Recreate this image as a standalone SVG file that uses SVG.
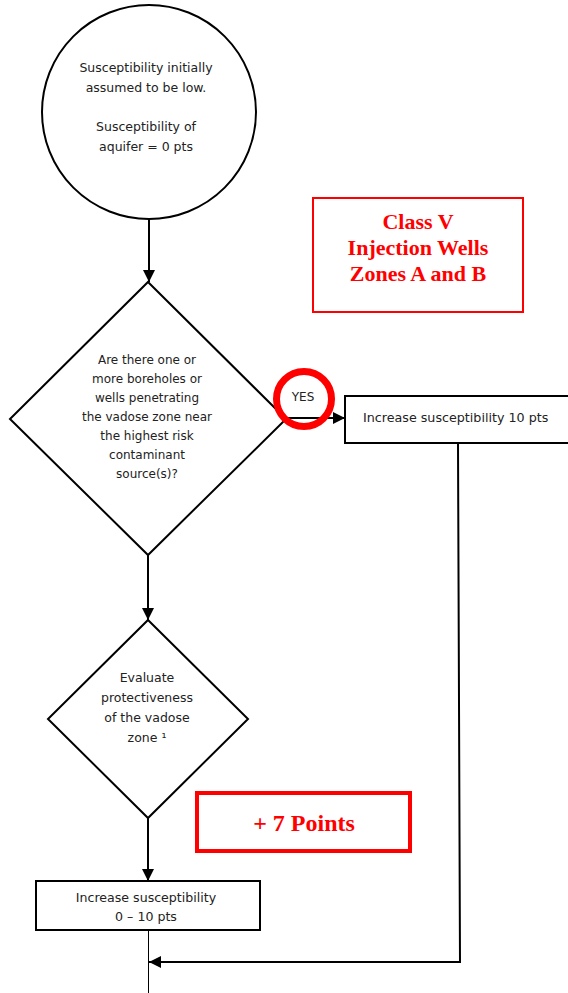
<svg xmlns="http://www.w3.org/2000/svg" width="568" height="993" viewBox="0 0 568 993">
<style>
.shape{fill:#fff;stroke:#000;stroke-width:2}
.t{font-family:"DejaVu Sans",sans-serif;font-size:12.5px;fill:#222;text-anchor:middle}
.tl{font-family:"DejaVu Sans",sans-serif;font-size:12.7px;fill:#222}
.red{font-family:"Liberation Serif",serif;font-weight:bold;fill:#f00;text-anchor:middle}
.conn{stroke:#000;stroke-width:2;fill:none}
</style>
<defs>
<marker id="arr" viewBox="0 0 10 10" refX="10" refY="5" markerWidth="6" markerHeight="6" markerUnits="strokeWidth" orient="auto">
<path d="M0,0 L10,5 L0,10 Z" fill="#000"/>
</marker>
</defs>
<rect width="568" height="993" fill="#fff"/>
<g id="connectors">
<line class="conn" x1="149" y1="218" x2="149" y2="282" marker-end="url(#arr)"/>
<line class="conn" x1="286" y1="418" x2="345" y2="418" marker-end="url(#arr)"/>
<line class="conn" x1="148" y1="555" x2="148" y2="620" marker-end="url(#arr)"/>
<line class="conn" x1="148" y1="818" x2="148" y2="881" marker-end="url(#arr)"/>
<polyline class="conn" points="458,443 460,962 149,962" marker-end="url(#arr)"/>
<line x1="148.5" y1="930" x2="148.5" y2="993" stroke="#000" stroke-width="1"/>
</g>
<g id="start">
<circle class="shape" cx="149" cy="112" r="107"/>
<text class="t" x="146" y="72">Susceptibility initially</text>
<text class="t" x="146" y="92">assumed to be low.</text>
<text class="t" x="146" y="131">Susceptibility of</text>
<text class="t" x="146" y="151">aquifer = 0 pts</text>
</g>
<g id="decision1">
<polygon class="shape" points="148,282 286,419 148,555 10,419"/>
<text class="t" x="147" y="364" style="font-size:12px">Are there one or</text>
<text class="t" x="147" y="383" style="font-size:12px">more boreholes or</text>
<text class="t" x="147" y="402" style="font-size:12px">wells penetrating</text>
<text class="t" x="147" y="421" style="font-size:12px">the vadose zone near</text>
<text class="t" x="147" y="440" style="font-size:12px">the highest risk</text>
<text class="t" x="147" y="459" style="font-size:12px">contaminant</text>
<text class="t" x="147" y="478" style="font-size:12px">source(s)?</text>
</g>
<g id="yes-label">
<text class="t" x="303" y="401" style="font-size:12px">YES</text>
<circle cx="304" cy="399" r="27.5" fill="none" stroke="#f00" stroke-width="7"/>
</g>
<g id="box1">
<rect class="shape" x="345" y="396" width="235" height="47"/>
<text class="tl" x="363" y="422">Increase susceptibility 10 pts</text>
</g>
<g id="decision2">
<polygon class="shape" points="148,620 248,719 148,818 48,719"/>
<text class="t" x="147" y="682">Evaluate</text>
<text class="t" x="147" y="702">protectiveness</text>
<text class="t" x="147" y="722">of the vadose</text>
<text class="t" x="147" y="742">zone ¹</text>
</g>
<g id="box2">
<rect class="shape" x="36" y="881" width="224" height="49"/>
<text class="t" x="146" y="902" style="font-size:12.6px">Increase susceptibility</text>
<text class="t" x="146" y="921" style="font-size:12.6px">0 – 10 pts</text>
</g>
<g id="title">
<rect x="313" y="198" width="210" height="114" fill="none" stroke="#f00" stroke-width="2"/>
<text class="red" x="418" y="229" font-size="22">Class V</text>
<text class="red" x="418" y="255" font-size="22">Injection Wells</text>
<text class="red" x="418" y="281" font-size="22">Zones A and B</text>
</g>
<g id="points">
<rect x="197" y="793" width="213" height="58" fill="none" stroke="#f00" stroke-width="4"/>
<text class="red" x="304" y="831" font-size="24">+ 7 Points</text>
</g>
</svg>
